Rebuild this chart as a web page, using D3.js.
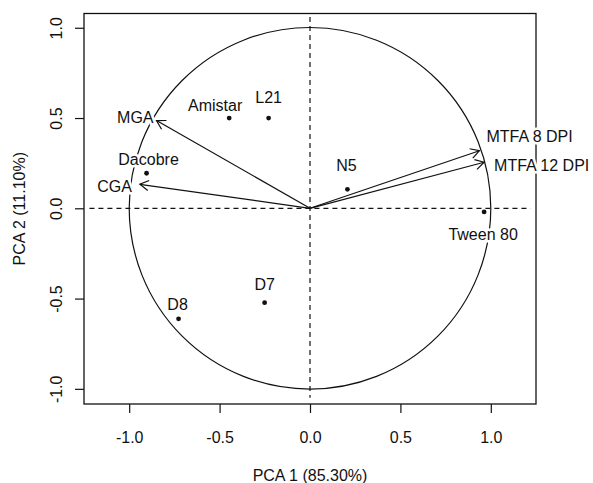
<!DOCTYPE html>
<html>
<head>
<meta charset="utf-8">
<script src="https://cdn.jsdelivr.net/npm/d3@7"></script>
<style>
  body { margin: 0; background: white; }
  svg text { font-family: "Liberation Sans", Arial, sans-serif; fill: #111; }
</style>
</head>
<body>
<svg id="chart" width="593" height="483"></svg>
<script>
// samples (scores)
const sampleNames = ["Amistar", "L21", "Dacobre", "N5", "Tween 80", "D8", "D7"];
const sampleX = [-0.447, -0.229, -0.904, 0.207, 0.963, -0.727, -0.251];
const sampleY = [0.500, 0.500, 0.194, 0.105, -0.020, -0.612, -0.523];

// variables (loadings)
const varNames = ["MGA", "CGA", "MTFA 8 DPI", "MTFA 12 DPI"];
const varX = [-0.849, -0.941, 0.937, 0.963];
const varY = [0.486, 0.133, 0.319, 0.255];

const tickValues = [-1.0, -0.5, 0.0, 0.5, 1.0];
const xTitle = "PCA 1 (85.30%)";
const yTitle = "PCA 2 (11.10%)";

// label nudges in px (text placement only)
const sampleNudge = [[-14, -7], [0, -15], [2, -8], [-1, -18], [-1, 28], [-1, -9], [0, -13]];
const varNudge = [[-3, 2, "end"], [-8, 8, "end"], [7, -9, "start"], [10, 9, "start"]];

const margin = { top: 13.5, right: 57, bottom: 79, left: 84 };
const width = 593, height = 483;
const fontSize = 16;

const svg = d3.select("#chart");

const x = d3.scaleLinear().domain([-1.25, 1.25]).range([margin.left, width - margin.right]);
const y = d3.scaleLinear().domain([-1.084, 1.079]).range([height - margin.bottom, margin.top]);

const fmt = d => d3.format(".1f")(d).replace("\u2212", "-");

// correlation circle
svg.append("circle")
  .attr("cx", x(0)).attr("cy", y(0))
  .attr("r", x(1) - x(0))
  .attr("fill", "none").attr("stroke", "#111").attr("stroke-width", 1.2);

// box
svg.append("rect")
  .attr("x", margin.left).attr("y", margin.top)
  .attr("width", x.range()[1] - x.range()[0])
  .attr("height", y.range()[0] - y.range()[1])
  .attr("fill", "none").attr("stroke", "#111").attr("stroke-width", 1.3);

// dashed reference lines
svg.append("line")
  .attr("x1", x(-1.22)).attr("x2", x(1.22))
  .attr("y1", y(0)).attr("y2", y(0))
  .attr("stroke", "#111").attr("stroke-width", 1.2).attr("stroke-dasharray", "5,4");
svg.append("line")
  .attr("x1", x(0)).attr("x2", x(0))
  .attr("y1", y(1.06)).attr("y2", y(-1.05))
  .attr("stroke", "#111").attr("stroke-width", 1.2).attr("stroke-dasharray", "5,4");

// axes
const xAxis = svg.append("g")
  .attr("transform", `translate(0,${y.range()[0]})`)
  .call(d3.axisBottom(x).tickValues(tickValues).tickSize(9).tickFormat(fmt));
xAxis.select(".domain").remove();
xAxis.selectAll("line").attr("stroke", "#111").attr("stroke-width", 1.2);
xAxis.selectAll("text")
  .attr("y", 38.5).attr("dy", 0)
  .style("font-size", fontSize + "px")
  .style("font-family", '"Liberation Sans", Arial, sans-serif')
  .attr("fill", "#111");

const yAxis = svg.append("g")
  .attr("transform", `translate(${x.range()[0]},0)`)
  .call(d3.axisLeft(y).tickValues(tickValues).tickSize(9).tickFormat(fmt));
yAxis.select(".domain").remove();
yAxis.selectAll("line").attr("stroke", "#111").attr("stroke-width", 1.2);
yAxis.selectAll("text")
  .attr("x", 0).attr("dy", 0)
  .attr("text-anchor", "middle")
  .attr("transform", "translate(-22,0) rotate(-90)")
  .style("font-size", fontSize + "px")
  .style("font-family", '"Liberation Sans", Arial, sans-serif')
  .attr("fill", "#111");

// axis titles
svg.append("text")
  .attr("x", (x.range()[0] + x.range()[1]) / 2).attr("y", 481)
  .attr("text-anchor", "middle")
  .style("font-size", fontSize + "px")
  .text(xTitle);
svg.append("text")
  .attr("transform", `translate(24.5,${(y.range()[0] + y.range()[1]) / 2}) rotate(-90)`)
  .attr("text-anchor", "middle")
  .style("font-size", fontSize + "px")
  .text(yTitle);

// labels with white halo (hides circle/box underneath)
const samples = sampleNames.map((n, i) => ({ name: n, x: sampleX[i], y: sampleY[i], nudge: sampleNudge[i] }));
const vars = varNames.map((n, i) => ({ name: n, x: varX[i], y: varY[i], nudge: varNudge[i] }));

svg.append("g").selectAll("text")
  .data(samples).enter().append("text")
  .attr("x", d => x(d.x) + d.nudge[0])
  .attr("y", d => y(d.y) + d.nudge[1])
  .attr("text-anchor", "middle")
  .style("font-size", fontSize + "px")
  .attr("stroke", "white").attr("stroke-width", 5)
  .attr("paint-order", "stroke")
  .text(d => d.name);

svg.append("g").selectAll("text")
  .data(vars).enter().append("text")
  .attr("x", d => x(d.x) + d.nudge[0])
  .attr("y", d => y(d.y) + d.nudge[1])
  .attr("text-anchor", d => d.nudge[2])
  .style("font-size", fontSize + "px")
  .attr("stroke", "white").attr("stroke-width", 5)
  .attr("paint-order", "stroke")
  .text(d => d.name);

// arrows
const headLen = 10, headAng = Math.PI / 6;
const arrows = svg.append("g").attr("stroke", "#111").attr("stroke-width", 1.2).attr("fill", "none");
vars.forEach(d => {
  const x0 = x(0), y0 = y(0), x1 = x(d.x), y1 = y(d.y);
  const a = Math.atan2(y1 - y0, x1 - x0);
  arrows.append("line").attr("x1", x0).attr("y1", y0).attr("x2", x1).attr("y2", y1);
  const p = d3.path();
  p.moveTo(x1 - headLen * Math.cos(a - headAng), y1 - headLen * Math.sin(a - headAng));
  p.lineTo(x1, y1);
  p.lineTo(x1 - headLen * Math.cos(a + headAng), y1 - headLen * Math.sin(a + headAng));
  arrows.append("path").attr("d", p.toString());
});

// points
svg.append("g").selectAll("circle")
  .data(samples).enter().append("circle")
  .attr("cx", d => x(d.x)).attr("cy", d => y(d.y))
  .attr("r", 2.4).attr("fill", "#111");
</script>
</body>
</html>
